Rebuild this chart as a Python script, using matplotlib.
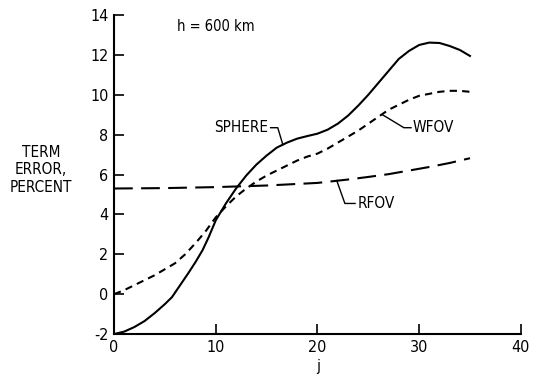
import numpy as np
import matplotlib
matplotlib.use("Agg")
import matplotlib.pyplot as plt

plt.rcParams['font.family'] = ['DejaVu Sans']
plt.rcParams['font.stretch'] = 'condensed'
plt.rcParams['axes.unicode_minus'] = False

# SPHERE curve
j_sphere = [0, 1, 2, 3, 4, 5, 5.7, 6.5, 7.3, 8, 8.7, 9.3, 10, 11, 12, 13, 14, 15,
            16, 17, 18, 19, 20, 21, 22, 23, 24, 25, 26, 27, 28, 29, 30, 31, 32,
            33, 34, 35]
err_sphere = [-2.0, -1.88, -1.65, -1.35, -0.95, -0.5, -0.15, 0.45, 1.05, 1.6, 2.2,
              2.85, 3.7, 4.55, 5.3, 5.95, 6.5, 6.95, 7.35, 7.6, 7.8, 7.93, 8.05,
              8.25, 8.55, 8.95, 9.45, 10.0, 10.6, 11.2, 11.8, 12.2, 12.5, 12.62,
              12.6, 12.45, 12.25, 11.95]

# WFOV curve
j_wfov = [0, 1, 2, 3, 4, 5, 6, 7, 8, 9, 10, 11, 12, 13, 14, 15, 16, 17, 18, 19,
          20, 21, 22, 23, 24, 25, 26, 27, 28, 29, 30, 31, 32, 33, 34, 35]
err_wfov = [0.0, 0.2, 0.45, 0.7, 0.95, 1.25, 1.55, 2.0, 2.55, 3.15, 3.85, 4.4,
            4.9, 5.3, 5.65, 5.95, 6.2, 6.45, 6.7, 6.9, 7.05, 7.3, 7.6, 7.9, 8.2,
            8.55, 8.9, 9.25, 9.5, 9.75, 9.95, 10.05, 10.15, 10.2, 10.2, 10.15]

# RFOV curve
j_rfov = [0, 5, 10, 15, 20, 23, 25, 27, 29, 31, 33, 35]
err_rfov = [5.3, 5.32, 5.37, 5.45, 5.58, 5.75, 5.88, 6.02, 6.2, 6.38, 6.58, 6.82]

x_ticks = [0, 10, 20, 30, 40]
y_ticks = [-2, 0, 2, 4, 6, 8, 10, 12, 14]

fig = plt.figure(figsize=(5.36, 3.77), dpi=100)
ax = fig.add_axes([0.2127, 0.114, 0.759, 0.846])

ax.plot(j_sphere, err_sphere, color='black', lw=1.5, solid_joinstyle='round')
ax.plot(j_wfov, err_wfov, color='black', lw=1.5, dashes=(3.5, 2.5))
ax.plot(j_rfov, err_rfov, color='black', lw=1.5, dashes=(9, 4))

ax.set_xlim(0, 40)
ax.set_ylim(-2, 14)
ax.set_xticks(x_ticks)
ax.set_yticks(y_ticks)
ax.spines['top'].set_visible(False)
ax.spines['right'].set_visible(False)
ax.spines['left'].set_linewidth(1.5)
ax.spines['bottom'].set_linewidth(1.5)
ax.tick_params(direction='in', length=7, width=1.2, labelsize=11.5, pad=4)

# curve labels with leader lines
ax.text(6.2, 13.45, 'h = 600 km', fontsize=10.5, va='center', ha='left')
ax.text(15.2, 8.35, 'SPHERE', fontsize=11, va='center', ha='right')
ax.plot([15.4, 16.1, 16.6], [8.35, 8.35, 7.5], color='black', lw=1.0)
ax.text(29.4, 8.35, 'WFOV', fontsize=11, va='center', ha='left')
ax.plot([26.4, 28.5, 29.2], [9.0, 8.35, 8.35], color='black', lw=1.0)
ax.text(24.0, 4.55, 'RFOV', fontsize=11, va='center', ha='left')
ax.plot([21.9, 22.7, 23.7], [5.7, 4.55, 4.55], color='black', lw=1.0)

fig.text(41 / 536, 1 - 170 / 377, 'TERM\nERROR,\nPERCENT', fontsize=11,
         ha='center', va='center', linespacing=1.2)
fig.text(318 / 536, 1 - 367 / 377, 'j', fontsize=11, ha='center', va='center')

fig.savefig('out.png', dpi=100)
